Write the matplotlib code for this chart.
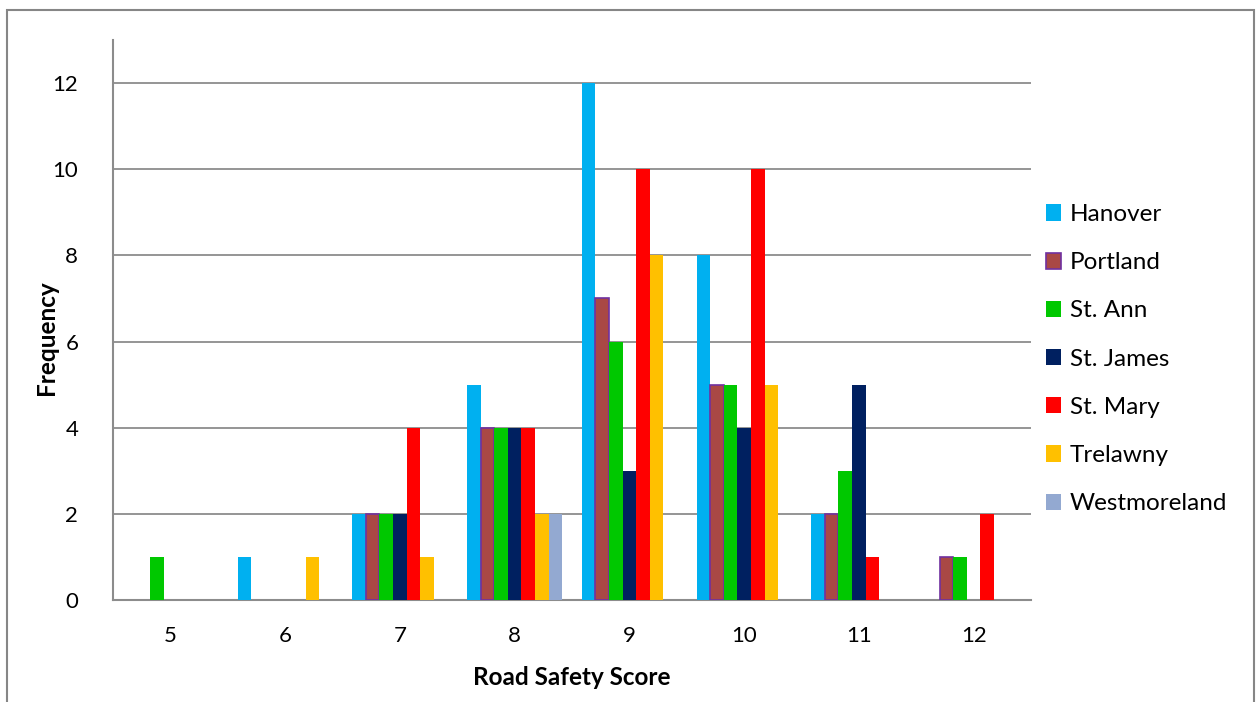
import matplotlib.pyplot as plt
import numpy as np
from matplotlib.patches import Rectangle

plt.rcParams['font.family'] = ['Lato', 'DejaVu Sans']

scores = ["5", "6", "7", "8", "9", "10", "11", "12"]
parishes = ["Hanover", "Portland", "St. Ann", "St. James",
            "St. Mary", "Trelawny", "Westmoreland"]

hanover = [0, 1, 2, 5, 12, 8, 2, 0]
portland = [0, 0, 2, 4, 7, 5, 2, 1]
st_ann = [1, 0, 2, 4, 6, 5, 3, 1]
st_james = [0, 0, 2, 4, 3, 4, 5, 0]
st_mary = [0, 0, 4, 4, 10, 10, 1, 2]
trelawny = [0, 1, 1, 2, 8, 5, 0, 0]
westmoreland = [0, 0, 0, 2, 0, 0, 0, 0]

series = [hanover, portland, st_ann, st_james, st_mary, trelawny, westmoreland]
colors = ["#00B0F0", "#A94845", "#00C800", "#002060",
          "#FF0000", "#FFC000", "#93A9D1"]
edges = [None, "#7030A0", None, None, None, None, None]

fig = plt.figure(figsize=(12.57, 7.02), dpi=100)
ax = fig.add_axes([113 / 1257, 1 - 600 / 702, 918 / 1257, 560 / 702])

# outer chart frame
fig.patches.append(Rectangle((7 / 1257, -0.05), 1247 / 1257, 1 - 10 / 702 + 0.05,
                             transform=fig.transFigure, fill=False,
                             edgecolor="#868686", linewidth=1.5))

x = np.arange(len(scores))
n = len(series)
group = 0.83
w = group / n
for i, (vals, name) in enumerate(zip(series, parishes)):
    vals = np.array(vals)
    pos = x - group / 2 + w * (i + 0.5)
    mask = vals > 0
    kw = {}
    if edges[i]:
        kw = dict(edgecolor=edges[i], linewidth=1.2)
    ax.bar(pos[mask], vals[mask], width=w, color=colors[i], zorder=3, **kw)
    ax.bar([np.nan], [0], width=w, color=colors[i], label=name, **kw)

ax.set_xlim(-0.5, len(scores) - 0.5)
ax.set_ylim(0, 13)
ax.set_yticks(range(0, 13, 2))
ax.set_xticks(x)
ax.set_xticklabels(scores)
ax.tick_params(length=0, labelsize=16, colors="black")
ax.tick_params(axis="y", pad=25)
ax.tick_params(axis="x", pad=19)

for y in range(2, 13, 2):
    ax.axhline(y, color="#8C8C8C", linewidth=1.3, zorder=1)

for s in ["top", "right"]:
    ax.spines[s].set_visible(False)
for s in ["left", "bottom"]:
    ax.spines[s].set_color("#8C8C8C")
    ax.spines[s].set_linewidth(1.5)

ax.set_xlabel("Road Safety Score", fontsize=17.5, fontweight="bold", labelpad=14)
ax.set_ylabel("Frequency", fontsize=17.5, fontweight="bold")
ax.yaxis.set_label_coords(-55 / 918, 0.5 - 18 / 560)

ax.legend(loc="center left", bbox_to_anchor=(0.992, 0.43), frameon=False,
          fontsize=17.5, handlelength=0.65, handleheight=0.65,
          handletextpad=0.35, labelspacing=1.12)

fig.savefig("out.png", dpi=100)
